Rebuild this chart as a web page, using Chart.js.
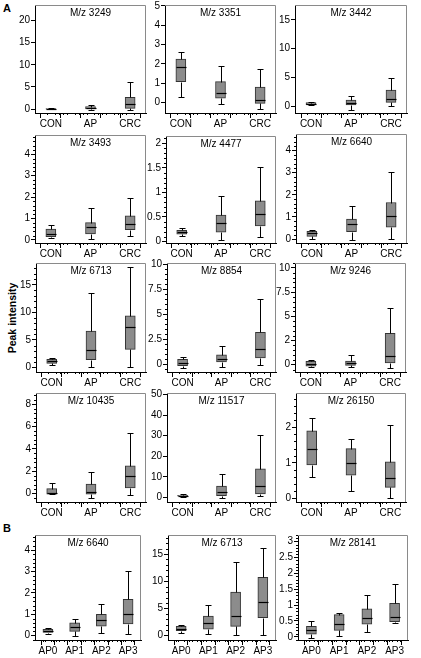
<!DOCTYPE html>
<html>
<head>
<meta charset="utf-8">
<script src="https://cdn.jsdelivr.net/npm/chart.js@4.4.1/dist/chart.umd.min.js"></script>
<style>
  html, body { margin: 0; padding: 0; background: #fff; }
  #fig { position: relative; width: 421px; height: 658px; overflow: hidden; font-family: "Liberation Sans", Arial, sans-serif; }
  #fig canvas { position: absolute; }
  .lbl { position: absolute; font-weight: bold; color: #000; }
  #ylab { left: -28px; top: 312px; width: 80px; text-align: center; font-size: 10.5px; transform: rotate(-90deg); }
</style>
</head>
<body>
<div id="fig">
  <div class="lbl" style="left:3px;top:2px;font-size:11px">A</div>
  <div class="lbl" style="left:3px;top:522px;font-size:11px">B</div>
  <div class="lbl" id="ylab">Peak intensity</div>
</div>
<script>
'use strict';

// ── Groups ─────────────────────────────────────────────
const groupsA = ['CON', 'AP', 'CRC'];
const groupsB = ['AP0', 'AP1', 'AP2', 'AP3'];

// ── Box stats per group: [min, q1, median, q3, max] ─────
const mz3249  = [[-0.1, -0.05, 0, 0.1, 0.15], [-0.15, 0.05, 0.25, 0.55, 0.95], [-0.2, 0.15, 1.2, 2.65, 6.2]];
const mz3351  = [[0.3, 1.08, 1.85, 2.25, 2.62], [-0.1, 0.22, 0.5, 1.08, 1.9], [-0.35, -0.05, 0.15, 0.8, 1.72]];
const mz3442  = [[0.15, 0.25, 0.45, 0.6, 0.8], [-0.6, 0.2, 0.55, 1.05, 1.75], [0, 0.65, 1.2, 2.8, 4.85]];
const mz3493  = [[0.08, 0.15, 0.28, 0.5, 0.68], [0.05, 0.28, 0.6, 0.8, 1.5], [0.16, 0.47, 0.74, 1.12, 1.97]];
const mz4477  = [[0.12, 0.15, 0.19, 0.23, 0.28], [0.04, 0.19, 0.38, 0.54, 0.92], [0.09, 0.32, 0.57, 0.83, 1.52]];
const mz6640  = [[0.02, 0.12, 0.25, 0.35, 0.42], [-0.03, 0.33, 0.67, 0.9, 1.5], [0, 0.54, 1.02, 1.65, 3.02]];
const mz6713  = [[0.45, 0.75, 1.15, 1.5, 1.8], [0.1, 1.45, 3.2, 6.6, 13.5], [0.1, 3.3, 7.3, 9.4, 18.2]];
const mz8854  = [[-0.33, -0.13, 0.15, 0.5, 0.78], [-0.25, 0.26, 0.55, 0.95, 1.85], [-0.05, 0.65, 1.5, 3.2, 6.5]];
const mz9246  = [[-0.25, -0.15, 0.1, 0.35, 0.45], [-0.25, -0.07, 0.17, 0.38, 0.97], [-0.3, 0.2, 0.86, 3.23, 5.85]];
const mz10435 = [[-0.05, -0.05, 0.02, 0.45, 0.95], [-0.4, -0.05, 0.1, 0.85, 1.95], [-0.15, 0.5, 1.55, 2.48, 5.4]];
const mz11517 = [[0.3, 0.5, 0.8, 1.0, 1.4], [-0.3, 0.8, 2.4, 5.4, 11.5], [0.5, 1.6, 5.7, 13.8, 30.5]];
const mz26150 = [[0.6, 0.94, 1.4, 1.9, 2.27], [0.21, 0.65, 1.0, 1.4, 1.67], [0, 0.31, 0.56, 1.03, 2.06]];
const apMz6640  = [[0.08, 0.15, 0.22, 0.3, 0.38], [0.0, 0.2, 0.42, 0.6, 0.78], [0.12, 0.45, 0.75, 1.0, 1.5], [0.1, 0.55, 1.0, 1.7, 3.0]];
const apMz6713  = [[0.5, 0.9, 1.3, 1.7, 2.0], [0.3, 1.2, 2.3, 3.6, 5.6], [0.1, 1.7, 3.7, 8.0, 13.6], [0.1, 3.3, 6.2, 10.7, 16.2]];
const apMz28141 = [[-0.05, 0.08, 0.2, 0.33, 0.5], [0.02, 0.2, 0.4, 0.7, 0.75], [0.15, 0.4, 0.6, 0.88, 1.3], [0.42, 0.48, 0.62, 1.05, 1.65]];

// ── Y tick values / labels ─────────────────────────────
const ticks0to20  = [0, 5, 10, 15, 20];
const ticks0to5   = [0, 1, 2, 3, 4, 5];
const ticks0to15  = [0, 5, 10, 15];
const ticks0to4   = [0, 1, 2, 3, 4];
const ticks0to2h  = [0, 0.5, 1, 1.5, 2];
const ticks0to10  = [0, 2.5, 5, 7.5, 10];
const labels0to10 = ['0', '2.5', '5', '7.5', '10'];
const labels9246  = ['0', '2', '5', '7.5', '10'];
const ticks0to8   = [0, 2, 4, 6, 8];
const ticks0to50  = [0, 10, 20, 30, 40, 50];
const ticks0to2   = [0, 1, 2];
const ticks0to3h  = [0, 0.5, 1, 1.5, 2, 2.5, 3];

const panels = [
  { title: 'M/z 3249',  groups: groupsA, stats: mz3249,  ticks: ticks0to20, yMin: -0.9,  yMax: 23.5, minor: 0 },
  { title: 'M/z 3351',  groups: groupsA, stats: mz3351,  ticks: ticks0to5,  yMin: -0.55, yMax: 5.05, minor: 0 },
  { title: 'M/z 3442',  groups: groupsA, stats: mz3442,  ticks: ticks0to15, yMin: -1.2,  yMax: 17.6, minor: 0 },
  { title: 'M/z 3493',  groups: groupsA, stats: mz3493,  ticks: ticks0to4,  yMin: -0.15, yMax: 4.9,  minor: 0.2 },
  { title: 'M/z 4477',  groups: groupsA, stats: mz4477,  ticks: ticks0to2h, yMin: -0.03, yMax: 2.15, minor: 0.1 },
  { title: 'M/z 6640',  groups: groupsA, stats: mz6640,  ticks: ticks0to4,  yMin: -0.18, yMax: 4.75, minor: 0.2 },
  { title: 'M/z 6713',  groups: groupsA, stats: mz6713,  ticks: ticks0to15, yMin: -0.8,  yMax: 18.95, minor: 1 },
  { title: 'M/z 8854',  groups: groupsA, stats: mz8854,  ticks: ticks0to10, labels: labels0to10, yMin: -0.75, yMax: 10.1, minor: 0.5 },
  { title: 'M/z 9246',  groups: groupsA, stats: mz9246,  ticks: ticks0to10, labels: labels9246,  yMin: -0.75, yMax: 10.5, minor: 0.5 },
  { title: 'M/z 10435', groups: groupsA, stats: mz10435, ticks: ticks0to8,  yMin: -0.75, yMax: 9.0,  minor: 0.4 },
  { title: 'M/z 11517', groups: groupsA, stats: mz11517, ticks: ticks0to50, yMin: -2.3,  yMax: 50.8, minor: 0 },
  { title: 'M/z 26150', groups: groupsA, stats: mz26150, ticks: ticks0to2,  yMin: -0.1,  yMax: 2.96, minor: 0.2 },
  { title: 'M/z 6640',  groups: groupsB, stats: apMz6640,  ticks: ticks0to4,  yMin: -0.2, yMax: 4.7,  minor: 0.2 },
  { title: 'M/z 6713',  groups: groupsB, stats: apMz6713,  ticks: ticks0to15, yMin: -0.8, yMax: 18.5, minor: 1 },
  { title: 'M/z 28141', groups: groupsB, stats: apMz28141, ticks: ticks0to3h, yMin: -0.1, yMax: 3.2,  minor: 0.1 },
];

// plot-area rectangles [left, top, right, bottom] in page pixels
const rects = [
  [35, 5, 146, 113], [165, 5, 276, 113], [295, 5, 407, 113],
  [35, 135, 146, 243], [166, 136, 276, 243], [296, 134, 407, 243],
  [36, 263, 146, 372], [167, 263, 276, 372], [295, 263, 406, 372],
  [36, 393, 146, 502], [167, 393, 276, 502], [296, 393, 406, 502],
  [35, 535, 141, 640], [168, 535, 276, 640], [298, 535, 408, 640],
];

const FONT = '"Liberation Sans", Arial, sans-serif';

// ── Whiskers, medians, frame, minor ticks, titles ──────
const boxPlugin = {
  id: 'boxes',
  afterDatasetsDraw(chart, args, opts) {
    const { ctx, scales: { x, y } } = chart;
    ctx.save();
    ctx.strokeStyle = '#000';
    ctx.lineWidth = 1;
    opts.stats.forEach((s, i) => {
      const cx = Math.round(x.getPixelForValue(i)) + 0.5;
      const px = s.map(v => Math.round(y.getPixelForValue(v)) + 0.5);
      ctx.beginPath();
      // upper whisker + cap
      ctx.moveTo(cx, px[3]); ctx.lineTo(cx, px[4]);
      ctx.moveTo(cx - 3, px[4]); ctx.lineTo(cx + 3, px[4]);
      // lower whisker + cap
      ctx.moveTo(cx, px[1]); ctx.lineTo(cx, px[0]);
      ctx.moveTo(cx - 3, px[0]); ctx.lineTo(cx + 3, px[0]);
      ctx.stroke();
      // median
      ctx.beginPath();
      ctx.lineWidth = 1.2;
      ctx.moveTo(cx - 5, px[2]); ctx.lineTo(cx + 5, px[2]);
      ctx.stroke();
      ctx.lineWidth = 1;
    });
    ctx.restore();
  },
  afterDraw(chart, args, opts) {
    const { ctx, chartArea: a, scales: { x, y } } = chart;
    ctx.save();
    // top / right frame in grey
    ctx.strokeStyle = '#8a8a8a';
    ctx.lineWidth = 1;
    ctx.beginPath();
    ctx.moveTo(a.left, a.top + 0.5); ctx.lineTo(a.right - 0.5, a.top + 0.5);
    ctx.lineTo(a.right - 0.5, a.bottom);
    ctx.stroke();
    // minor ticks
    ctx.strokeStyle = '#000';
    ctx.beginPath();
    for (let k = Math.ceil(x.min * 10); k <= Math.floor(x.max * 10); k++) {
      if (k % 5 === 0) continue;
      const px = Math.round(x.getPixelForValue(k / 10)) + 0.5;
      ctx.moveTo(px, a.bottom); ctx.lineTo(px, a.bottom + 2);
    }
    if (opts.minor) {
      const n0 = Math.ceil(y.min / opts.minor), n1 = Math.floor(y.max / opts.minor);
      for (let k = n0; k <= n1; k++) {
        const v = k * opts.minor;
        if (opts.ticks.some(t => Math.abs(t - v) < 1e-6)) continue;
        const py = Math.round(y.getPixelForValue(v)) + 0.5;
        ctx.moveTo(a.left - 2, py); ctx.lineTo(a.left, py);
      }
    }
    ctx.stroke();
    // panel title
    ctx.fillStyle = '#000';
    ctx.font = '10px ' + FONT;
    ctx.textAlign = 'center';
    ctx.textBaseline = 'middle';
    ctx.fillText(opts.title, (a.left + a.right) / 2, a.top + 8);
    ctx.restore();
  }
};

const fig = document.getElementById('fig');

function makePanel(p, rect) {
  const [l, t, r, b] = rect;
  const AX = 32, PT = 8, PR = 14, XH = 24;
  const n = p.groups.length;
  const xPad = n === 3 ? 0.12 : 0.2;
  const w = (r - l) + AX + PR, h = (b - t) + PT + XH;
  const cv = document.createElement('canvas');
  cv.width = w; cv.height = h;
  cv.style.left = (l - AX) + 'px';
  cv.style.top = (t - PT) + 'px';
  cv.style.width = w + 'px';
  cv.style.height = h + 'px';
  fig.appendChild(cv);

  const tickLabels = p.labels || p.ticks.map(String);

  new Chart(cv, {
    type: 'bar',
    data: {
      datasets: [{
        data: p.stats.map((s, i) => ({ x: i, y: [s[1], s[3]] })),
        backgroundColor: '#8c8c8c',
        borderColor: '#333',
        borderWidth: 1,
        borderSkipped: false,
        barThickness: 10,
      }]
    },
    options: {
      responsive: false,
      animation: false,
      devicePixelRatio: 1,
      layout: { padding: { left: 0, top: PT, right: PR, bottom: 0 } },
      plugins: {
        legend: { display: false },
        tooltip: { enabled: false },
        boxes: { stats: p.stats, title: p.title, minor: p.minor, ticks: p.ticks },
      },
      scales: {
        x: {
          type: 'linear',
          min: -xPad,
          max: n - 1 + xPad,
          afterBuildTicks: s => {
            const vals = [];
            for (let k = 0; k <= (n - 1) * 2; k++) vals.push({ value: k / 2 });
            s.ticks = vals;
          },
          afterFit: s => { s.height = XH; },
          grid: { display: true, drawOnChartArea: false, drawTicks: true, tickLength: 5, color: '#000' },
          border: { display: true, color: '#000', width: 1 },
          ticks: {
            autoSkip: false, maxRotation: 0, padding: 0, color: '#000',
            font: { size: 10, family: FONT },
            callback: v => (Number.isInteger(v) ? p.groups[v] : ''),
          },
        },
        y: {
          min: p.yMin,
          max: p.yMax,
          afterBuildTicks: s => { s.ticks = p.ticks.map(v => ({ value: v })); },
          afterFit: s => { s.width = AX; },
          grid: { display: true, drawOnChartArea: false, drawTicks: true, tickLength: 4, color: '#000' },
          border: { display: true, color: '#000', width: 1 },
          ticks: {
            padding: 1, color: '#000',
            font: { size: 10, family: FONT },
            callback: (v, i) => tickLabels[i],
          },
        },
      },
    },
    plugins: [boxPlugin],
  });
}

panels.forEach((p, i) => makePanel(p, rects[i]));
</script>
</body>
</html>
